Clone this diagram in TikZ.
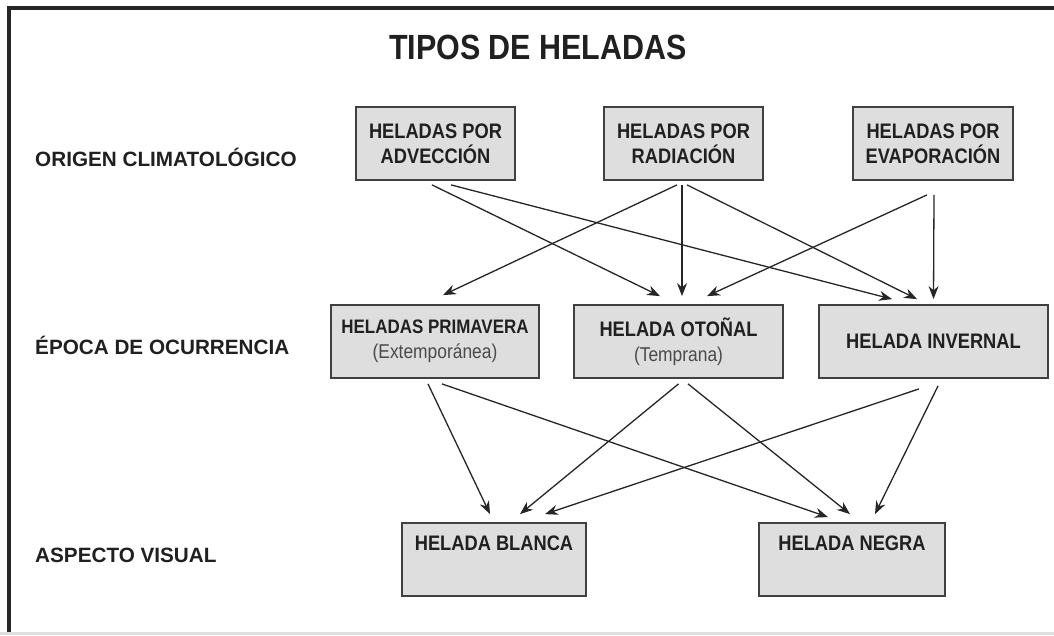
\documentclass[tikz,border=0pt]{standalone}
\usepackage{fontspec}
\setmainfont{Liberation Sans}
\newfontfamily\narrowfont[FakeStretch=0.87]{Liberation Sans}
\usetikzlibrary{arrows.meta}
\definecolor{boxfill}{HTML}{DEDEDE}
\definecolor{boxborder}{HTML}{404040}
\definecolor{textc}{HTML}{202020}
\definecolor{subc}{HTML}{4A4A4A}
\definecolor{framec}{HTML}{262626}
\definecolor{arrc}{HTML}{262626}
\tikzset{
  hbox/.style={draw=boxborder, line width=1.8pt, fill=boxfill, minimum width=#1,
    minimum height=73pt, inner sep=0pt, align=center, text=textc,
    font=\narrowfont\bfseries\fontsize{21}{25}\selectfont},
  rowlabel/.style={anchor=west, inner sep=0pt, text=textc,
    font=\bfseries\fontsize{20.7}{24}\selectfont},
  arr/.style={draw=arrc, line width=1.3pt, -{Stealth[length=13pt,width=10pt]}}
}
\begin{document}
\begin{tikzpicture}[x=1pt,y=-1pt]
\useasboundingbox (0,0) rectangle (1054,635);
\fill[white] (0,0) rectangle (1054,635);
% frame
\draw[framec, line width=4pt] (9,635) -- (9,8) -- (1054,8);
\fill[black!13] (0,632) rectangle (1054,635);
% title
\node[text=textc, font=\narrowfont\bfseries\fontsize{35}{40}\selectfont] (title) at (538,47) {TIPOS DE HELADAS};
% row labels
\node[rowlabel] (l1) at (35,157) {ORIGEN CLIMATOLÓGICO};
\node[rowlabel] (l2) at (35,345) {ÉPOCA DE OCURRENCIA};
\node[rowlabel] (l3) at (35,555) {ASPECTO VISUAL};
% row 1
\node[hbox=159pt] (adv) at (435.5,143.5) {HELADAS POR\\ADVECCIÓN};
\node[hbox=159pt] (rad) at (683.5,143.5) {HELADAS POR\\RADIACIÓN};
\node[hbox=160pt] (eva) at (933,143.5) {HELADAS POR\\EVAPORACIÓN};
% row 2
\node[hbox=208pt] (pri) at (435,341.5) {{\fontsize{19.5}{25}\selectfont HELADAS PRIMAVERA}\\{\narrowfont\mdseries\fontsize{20}{25}\selectfont\color{subc}(Extemporánea)}};
\node[hbox=209pt] (oto) at (678.5,341.5) {HELADA OTOÑAL\\{\narrowfont\mdseries\fontsize{20}{25}\selectfont\color{subc}(Temprana)}};
\node[hbox=229pt] (inv) at (933.5,341.5) {HELADA INVERNAL};
% row 3
\node[hbox=184pt] (bla) at (494,559.5) {HELADA BLANCA\\\strut};
\node[hbox=186pt] (neg) at (852,559.5) {HELADA NEGRA\\\strut};
% arrows row 1 -> row 2
\draw[arr] ([xshift=-3.5pt,yshift=-4pt]adv.south) -- ([xshift=-18.5pt,yshift=8pt]oto.north);
\draw[arr] ([xshift=15.5pt,yshift=-4pt]adv.south) -- ([xshift=-41.5pt,yshift=5pt]inv.north);
\draw[arr] ([xshift=-6.5pt,yshift=-4pt]rad.south) -- ([xshift=8pt,yshift=9pt]pri.north);
\draw[arr] ([xshift=-1.5pt,yshift=-4pt]rad.south) -- ([xshift=3.5pt,yshift=8pt]oto.north);
\draw[arr] ([xshift=3.5pt,yshift=-4pt]rad.south) -- ([xshift=-16.5pt,yshift=5pt]inv.north);
\draw[arr] ([xshift=-6pt,yshift=-14pt]eva.south) -- ([xshift=28.5pt,yshift=8pt]oto.north);
\draw[arr] ([xshift=1pt,yshift=-14pt]eva.south) -- ([xshift=0pt,yshift=5pt]inv.north);
% arrows row 2 -> row 3
\draw[arr] ([xshift=-7pt,yshift=-5pt]pri.south) -- ([xshift=-4pt,yshift=8pt]bla.north);
\draw[arr] ([xshift=7pt,yshift=-5pt]pri.south) -- ([xshift=-24pt,yshift=5pt]neg.north);
\draw[arr] ([xshift=0pt,yshift=-5pt]oto.south) -- ([xshift=26pt,yshift=8pt]bla.north);
\draw[arr] ([xshift=9.5pt,yshift=-5pt]oto.south) -- ([xshift=-2pt,yshift=8pt]neg.north);
\draw[arr] ([xshift=-14.5pt,yshift=-10pt]inv.south) -- ([xshift=51pt,yshift=8pt]bla.north);
\draw[arr] ([xshift=4.5pt,yshift=-7pt]inv.south) -- ([xshift=23pt,yshift=8pt]neg.north);
\end{tikzpicture}
\end{document}
